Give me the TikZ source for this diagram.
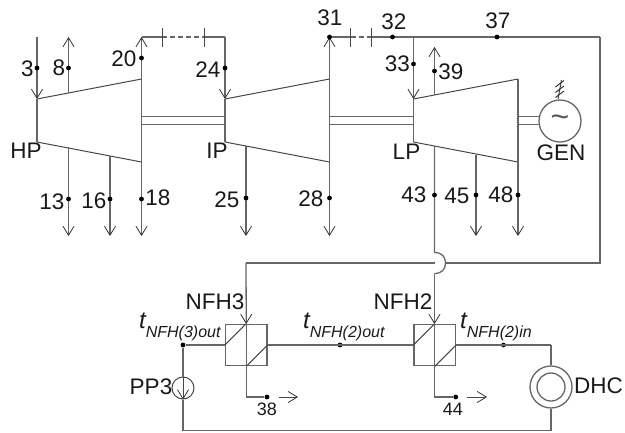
\documentclass[tikz,border=0pt]{standalone}
\usepackage{fontspec}
\setmainfont{Liberation Sans}
\usetikzlibrary{arrows.meta}
\tikzset{
  x=1pt,y=-1pt,
  pipe/.style={draw=black!60,line width=1.3pt},
  thin pipe/.style={draw=black!72,line width=1pt},
  barb/.style={-{Straight Barb[length=9pt,width=11pt,line width=0.8pt,black!80]}},
  flow/.style={pipe,barb},
  dot/.style={circle,fill=black,inner sep=0pt,minimum size=4.8pt},
  lab/.style={font=\fontsize{22.5}{22.5}\selectfont,inner sep=0pt,text=black!90},
  tlab/.style={inner sep=0pt,anchor=base west,text=black!90},
  small/.style={font=\fontsize{18}{18}\selectfont,inner sep=0pt,text=black!90},
}
\newcommand{\tvar}[1]{{\fontsize{24}{24}\selectfont\itshape t}\raisebox{-9pt}{\fontsize{16}{16}\selectfont\itshape #1}}
\begin{document}
\begin{tikzpicture}
\useasboundingbox (0,0) rectangle (625,432);
% named coordinates
\coordinate (hpTL) at (37,99); \coordinate (hpBL) at (37,142);
\coordinate (hpTR) at (141.5,79); \coordinate (hpBR) at (141.5,162);
\coordinate (ipTL) at (225,99); \coordinate (ipBL) at (225,142);
\coordinate (ipTR) at (329.5,79); \coordinate (ipBR) at (329.5,162);
\coordinate (lpTL) at (413.5,99); \coordinate (lpBL) at (413.5,142);
\coordinate (lpTR) at (518,79); \coordinate (lpBR) at (518,162);
% turbines
\draw[thin pipe] (hpTL)--(hpTR) (hpBR)--(hpBL);
\draw[thin pipe] (ipTL)--(ipTR) (ipBR)--(ipBL);
\draw[thin pipe] (lpTL)--(lpTR) (lpBR)--(lpBL);
\draw[pipe] (hpTL)--(hpBL) (hpTR)--(hpBR);
\draw[pipe] (ipTL)--(ipBL) (ipTR)--(ipBR);
\draw[pipe] (lpTL)--(lpBL) (lpTR)--(lpBR);
% shafts
\foreach \y in {116.5,124.5}{
  \draw[pipe] (141.5,\y)--(225,\y);
  \draw[pipe] (329.5,\y)--(413.5,\y);
  \draw[pipe] (518,\y)--(539,\y);
}
% generator
\node[circle,pipe,draw,minimum size=42pt,inner sep=0pt] (gen) at (560,121) {};
\node[inner sep=0pt,text=black!65,font=\fontsize{32}{32}\selectfont] (til) at (560,121) {\char"7E};
\coordinate (gt) at (561.5,80);
\coordinate (gb) at (558,99);
\draw[thin pipe] (gb)--(gt);
\foreach \y in {87,92.5,97.5}{\draw[black!85,line width=0.9pt] (555.5,\y)--(564,\y-6.5);}
% HP streams
\coordinate (s3) at (37,37); \draw[flow] (s3)--(hpTL);
\coordinate (s8a) at (68.5,93); \coordinate (s8) at (68.5,37); \draw[flow] (s8a)--(s8);
\coordinate (s20) at (141.5,37); \draw[flow] (hpTR)--(s20);
\coordinate (a) at (162,37); \coordinate (b) at (204,37); \coordinate (s24) at (225,37);
\draw[pipe] (s20)--(a); \draw[pipe,dash pattern=on 5pt off 3pt] (a)--(b); \draw[pipe] (b)--(s24);
\draw[thin pipe] (162,28)--(162,47); \draw[thin pipe] (204,28)--(204,47);
\draw[flow] (s24)--(ipTL);
\draw[flow] (68.5,147)--(68.5,236);
\draw[flow] (110,156)--(110,236);
\draw[flow] (hpBR)--(141.5,236);
% IP
\draw[flow] (246,146)--(246,236);
\draw[flow] (ipBR)--(329.5,236);
\coordinate (s31) at (329.5,37); \draw[flow] (ipTR)--(s31);
\coordinate (c) at (350.5,37); \coordinate (d) at (371.5,37); \coordinate (e) at (413.5,37); \coordinate (f) at (600,37);
\draw[pipe] (s31)--(c); \draw[pipe,dash pattern=on 5pt off 3pt] (c)--(d); \draw[pipe] (d)--(f);
\draw[thin pipe] (350.5,28)--(350.5,47); \draw[thin pipe] (371.5,28)--(371.5,47);
\draw[flow] (e)--(lpTL);
% LP
\draw[flow] (434.5,95)--(434.5,47);
\draw[flow] (476,155)--(476,236);
\draw[flow] (lpBR)--(518,236);
% return line with jump
\coordinate (g) at (600,263); \coordinate (h) at (246,263);
\draw[pipe] (f)--(g)--(445.5,263);
\draw[pipe] (434.5,263)--(h);
\coordinate (i2) at (434.5,324); \coordinate (i3) at (246.25,324);
\draw[pipe] (434.5,146)--(434.5,252.5) .. controls (442,252.5) and (445.5,257) .. (445.5,263) .. controls (445.5,269) and (442,273.5) .. (434.5,273.5);
\draw[flow] (434.5,273.5)--(i2);
\draw[flow] (h)--(i3);
% heaters
\node[pipe,draw,minimum size=41.5pt,inner sep=0pt] (n3) at (246.25,345) {};
\node[pipe,draw,minimum size=41.5pt,inner sep=0pt] (n2) at (434.75,345) {};
\draw[thin pipe] (n3.west)--(n3.north);
\draw[thin pipe] (n3.south)--(n3.east);
\draw[pipe] (n3.north)--(n3.south);
\draw[thin pipe] (n2.west)--(n2.north);
\draw[thin pipe] (n2.south)--(n2.east);
\draw[pipe] (n2.north)--(n2.south);
% drains
\node[dot] (o3) at (267,397) {};
\node[dot] (o2) at (455.7,397) {};
\draw[pipe] (n3.south)|-(o3);
\draw[pipe] (n2.south)|-(o2);
\coordinate (ar3a) at (279,397); \coordinate (ar3b) at (298,397);
\coordinate (ar2a) at (467,397); \coordinate (ar2b) at (487,397);
\draw[thin pipe,barb] (ar3a)--(ar3b);
\draw[thin pipe,barb] (ar2a)--(ar2b);
% condensate loop
\node[dot] (p) at (183,345) {};
\node[dot] (p2) at (340,345) {};
\node[dot] (p3) at (503.5,345) {};
\coordinate (q) at (551,345);
\coordinate (rr) at (551,430.5);
\coordinate (ss) at (183,430.5);
\draw[pipe] (p)--(n3.west);
\draw[pipe] (n3.east)--(n2.west);
\draw[pipe] (n2.east)--(q);
\node[circle,pipe,draw,minimum size=42pt,inner sep=0pt] (dhc) at (551,387) {};
\node[circle,pipe,draw,minimum size=28pt,inner sep=0pt] (dhci) at (551,387) {};
\draw[pipe] (q)--(dhc.north);
\node[circle,thin pipe,draw,minimum size=22pt,inner sep=0pt] (pp) at (183,388) {};
\draw[pipe] (p)--(pp.north);
\draw[thin pipe,barb] (pp.north)--(pp.south);
\draw[pipe] (pp.south)--(ss)--(rr)--(dhc.south);
% dots
\foreach \n/\x/\y in {d3/37/68,d8/68.5/68,d20/141.5/58,d24/225/68,d13/68.5/199,d16/110/199,d18/141.5/199,d25/246/198,d28/329.5/198,d31/329.5/37,d32/392.5/37,d37/497/37,d33/413.5/64,d39/434.5/71,d43/434.5/195,d45/476/195,d48/518/195}{
  \node[dot] (\n) at (\x,\y) {};
}
% labels
\foreach \n/\x/\y/\t in {l3/27.5/68.5/3,l8/59/68/8,l20/124/59/20,l24/208/70/24,lHP/26/151/HP,lIP/217/151/IP,l13/52/202/13,l16/94/201/16,l18/158/198/18,l25/227/200/25,l28/311/199/28,l31/330/17.5/31,l32/394/22/32,l37/498/21/37,l33/397.5/64/33,l39/451/72/39,lLP/406.5/152/LP,lGEN/561/153/GEN,l43/414/195/43,l45/457/196/45,l48/501/195/48,lN3/215/302/NFH3,lN2/403/302/NFH2,lPP/151/387/PP3,lDHC/598.5/386/DHC}{
  \node[lab] (\n) at (\x,\y) {\t};
}
\node[small] (l38) at (267,409) {38};
\node[small] (l44) at (453,409) {44};
\node[tlab] (t3) at (139,328) {\tvar{NFH(3)out}};
\node[tlab] (t2) at (303,328) {\tvar{NFH(2)out}};
\node[tlab] (t1) at (460,328) {\tvar{NFH(2)in}};
\end{tikzpicture}
\end{document}
